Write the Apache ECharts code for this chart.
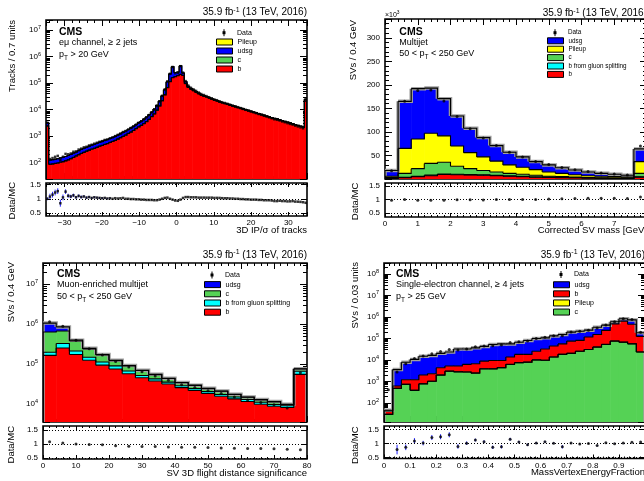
<!DOCTYPE html>
<html><head><meta charset="utf-8">
<script src="https://cdn.jsdelivr.net/npm/echarts@6/dist/echarts.min.js"></script>
<style>html,body{margin:0;padding:0;background:#fff}#c{width:644px;height:481px}</style>
</head><body><div id="c"></div>
<script>
const FONT = '"Liberation Sans", Arial, Helvetica, sans-serif';
const RED = '#ff0000', GREEN = '#55d255', BLUE = '#0000ff', YELLOW = '#ffff00', CYAN = '#00ffff';

// ---------- Panel 1: 3D IP/sigma of tracks (100 bins, -35..35) ----------
const ipBins = [-35, 0.7];
const ipB = [2400,86,88,92,96,103,107,116,126,139,
 156,176,197,221,243,266,292,320,343,376,
 412,442,484,519,569,624,684,770,861,966,
 1085,1246,1408,1615,1898,2203,2530,2928,3518,4264,
 5366,6825,9425,13585,21515,35968,67200,112000,158460,175700,
 189360,210090,192000,95200,68400,58590,51150,44640,39060,34410,
 31620,29760,27070,24670,22460,21020,19200,17860,16700,15550,
 14500,13540,12670,11810,11040,10270,9600,8957,8362,7805,
 7286,6797,6346,5923,5520,5155,4810,4493,4291,4003,
 3734,3485,3254,3034,2832,2640,2467,2304,2150,24000];
const ipC = [30,1,1,1,1,2,2,2,2,2,
 2,3,3,3,3,4,4,5,5,5,
 6,6,7,7,8,9,10,11,12,14,
 16,18,20,23,28,32,37,44,53,65,
 81,105,145,209,331,562,1120,2240,4170,2510,
 2630,4470,2400,1120,760,630,550,480,420,370,
 340,310,282,257,234,219,200,186,174,162,
 151,141,132,123,115,107,100,93,87,81,
 76,71,66,62,58,54,50,47,45,42,
 39,36,34,32,30,28,26,24,22,250];
const ipPU = [10,0.4,0.4,0.4,0.4,0.5,0.5,0.5,0.6,0.6,
 0.7,0.8,0.8,1,1,1,1,1,1,2,
 2,2,2,2,2,3,3,3,4,4,
 5,5,6,7,8,10,11,13,16,19,
 24,32,44,63,99,169,336,672,1250,750,
 790,1340,720,340,230,190,165,144,126,111,
 102,93,85,77,70,66,60,56,52,49,
 45,42,40,37,35,32,30,28,26,24,
 23,21,20,19,17,16,15,14,13,13,
 12,11,10,9,9,8,8,7,7,75];
const ipUdsg = [760,39,40,42,44,46,49,52,57,62,
 70,71,81,91,100,109,120,131,141,154,
 169,181,199,213,234,255,280,316,353,396,
 444,511,606,695,816,995,1142,1385,1663,2112,
 2659,3538,4886,7043,11155,19501,43344,109088,253120,72040,
 70220,231100,44880,15340,6610,3590,3135,2736,2394,2109,
 1938,837,763,696,636,595,540,498,474,439,
 404,377,358,330,310,291,270,252,235,220,
 205,191,178,166,155,145,135,126,121,112,
 105,98,92,85,79,74,69,65,61,675];
const ipData = [3200,136,148,165,179,128,166,213,205,220,
 256,264,310,335,375,395,442,471,515,558,
 607,644,713,748,829,891,997,1110,1250,1420,
 1550,1780,2020,2320,2700,3180,3610,4240,5040,6200,
 7800,9980,13800,20300,33100,57900,116500,224000,404500,236000,
 244600,433600,247200,118700,80600,66200,57800,50400,43700,38500,
 35400,32200,29300,26700,24100,22600,20600,19000,17700,16500,
 15250,14240,13200,12300,11390,10590,9800,9140,8450,7890,
 7360,6800,6350,5860,5460,5100,4710,4310,4110,3880,
 3580,3340,3080,2880,2710,2480,2310,2140,1970,21500];
const ipRatioErr = [0.05,0.1,0.1,0.1,0.1,0.12,0.1,0.08,0.07,0.06,0.06,0.05,0.05,0.05,0.04,0.04,0.04,0.03,0.03,0.03,0.03,0.03,0.02,0.02,0.02];

// ---------- Panel 2: corrected SV mass (20 bins, 0..8 GeV), units of 10^3 ----------
const mBins = [0, 0.4];
const mB    = [0.5,3,5,7,9.5,9,8.5,8,7,6,5,4,3.5,3,2.5,2,1.5,1.3,1.2,4];
const mBg   = [0.2,0.6,1,1.2,1.2,1,0.9,0.8,0.7,0.6,0.5,0.4,0.3,0.3,0.2,0.2,0.2,0.1,0.1,0.6];
const mC    = [2.3,8.4,16,25,25,17,12.6,9.2,7.3,5.4,4.5,3.6,2.2,1.7,1.3,0.8,0.8,0.6,0.7,7.4];
const mPU   = [3,53,63,64,56,43,34,29,23,18,15,12,9,7,5,4,3.5,3,2,25];
const mUdsg = [12,100,107,96,79,64,52,41,33,27,22,17,15,12,10,8,6,5,4,27];
const mData = [17.6,165,188,189,166,133,107,87,71,57,47,37,30.6,24.7,19.8,15.8,12.6,10.5,8.3,70];

// ---------- Panel 3: SV 3D flight distance significance (20 bins, 0..80) ----------
const fBins = [0, 4];
const fB    = [167000,255000,175000,126000,95000,76000,58000,46000,38000,32000,26000,22000,18500,15800,13600,11700,10000,8900,8300,56000];
const fBg   = [33000,75000,40000,24000,19000,15000,10000,6500,5000,3800,3100,2600,2200,1800,1600,1400,1200,1000,900,11000];
const fC    = [440000,350000,165000,90000,56000,32000,23000,17000,12000,8200,5300,4900,3900,3600,2300,1900,1700,1600,700,9000];
const fUdsg = [430000,180000,20000,10000,5000,3000,2000,1500,1000,800,600,500,400,300,300,200,200,200,100,1000];
const fData = [1156000,894000,400000,245000,170000,118000,85600,64600,51000,40000,30800,26400,21800,18500,15100,12800,11000,9700,8100,61000];

// ---------- Panel 4: MassVertexEnergyFraction (30 bins, 0..1) ----------
const eBins = [0, 1/30];
const eC    = [29,470,720,380,760,1000,1950,2950,2750,2700,2400,3800,3800,4300,6100,7300,7700,9800,9500,13500,18000,20000,25000,30000,39000,52000,74000,66000,55000,23000];
const ePU   = [0.3,5,7,4,8,10,20,30,28,27,24,38,38,43,61,73,77,98,95,135,180,200,250,300,390,520,740,660,550,230];
const eB    = [12,130,460,800,1190,1240,2300,2150,2350,3400,4100,4900,5500,5000,7400,10500,10100,15200,22500,30500,37000,54000,55000,85000,111000,183000,396000,564000,395000,100000];
const eUdsg = [4,2900,6500,9300,12800,13800,15700,17900,26900,25900,29500,33300,42700,45700,41500,48200,61200,73000,73000,86000,95000,121000,135000,125000,180000,175000,120000,180000,270000,60000];
const eData = [400,2730,6600,11400,14900,19400,24700,30100,28500,32300,40300,44500,44700,48400,63200,69300,75000,99000,111000,131000,132000,197000,211000,240000,304000,418000,584000,818000,749000,192000];
const eRatioErr = [0.3,0.17,0.1,0.1,0.08,0.09,0.09,0.09,0.08,0.06,0.05,0.05,0.06,0.06,0.05,0.04,0.04,0.03,0.03,0.02,0.06,0.02,0.02,0.02,0.02,0.01,0.01,0.01,0.01,0.01];

// ---------- helpers ----------
const grids = [], xAxes = [], yAxes = [], series = [], legends = [], gfx = [];
const edges = (bins, n) => Array.from({length: n + 1}, (_, i) => bins[0] + bins[1] * i);
const centers = (bins, n) => Array.from({length: n}, (_, i) => bins[0] + bins[1] * (i + 0.5));

const fillItem = color => (params, api) => {
  const a = api.coord([api.value(0), api.value(3)]);
  const b = api.coord([api.value(1), api.value(2)]);
  return {type: 'rect', shape: {x: a[0], y: Math.min(a[1], b[1]), width: b[0] - a[0] + 0.6, height: Math.abs(b[1] - a[1])},
    style: {fill: color}};
};
const outlineItem = (stroke, width) => (params, api) => {
  const x0 = api.value(0), x1 = api.value(1), hi = api.value(2), hn = api.value(3), hl = api.value(4);
  const pts = [api.coord([x0, hl]), api.coord([x0, hi]), api.coord([x1, hi]), api.coord([x1, hn])];
  return {type: 'polyline', shape: {points: pts}, style: {stroke, lineWidth: width, fill: null}};
};

function addHist(p, ax) {
  const n = p.stack[0][1].length, e = edges(p.bins, n);
  const base = p.y.type === 'log' ? p.y.min : 0;
  let prev = new Array(n).fill(0);
  const outline = [];
  p.stack.forEach((s, j) => {
    const name = s[0], vals = s[1], color = s[2];
    const cum = vals.map((v, i) => prev[i] + v);
    const fill = cum.map((c, i) => [e[i], e[i + 1], j === 0 ? base : prev[i], c]);
    series.push({type: 'custom', name, xAxisIndex: ax, yAxisIndex: ax, clip: true, silent: true, z: 2,
      itemStyle: {color}, data: fill, renderItem: fillItem(color)});
    cum.forEach((c, i) => outline.push([e[i], e[i + 1], c, i + 1 < n ? cum[i + 1] : base, i === 0 ? base : c]));
    prev = cum;
  });
  if (p.band) {
    const tot = prev;
    series.push({type: 'custom', xAxisIndex: ax, yAxisIndex: ax, clip: true, silent: true, z: 3,
      data: tot.map((c, i) => [e[i], e[i + 1], c, i + 1 < n ? tot[i + 1] : base, i === 0 ? base : c]),
      renderItem: outlineItem('#a0a0a0', 3.5)});
  }
  series.push({type: 'custom', xAxisIndex: ax, yAxisIndex: ax, clip: true, silent: true, z: 4,
    data: outline, renderItem: outlineItem('#000', 1.1)});
  return prev; // MC total
}

function logLabel(v) {
  const l = Math.log10(v), e = Math.round(l);
  return Math.abs(l - e) < 1e-6 ? '10{s|' + e + '}' : '';
}
const labelRich = {s: {fontSize: 5.5, lineHeight: 6, verticalAlign: 'top', color: '#000', fontFamily: FONT}};
const tick = (len) => ({inside: true, length: len, lineStyle: {color: '#000', width: 1}});
const noLine = {show: false, onZero: false};

function addPanel(k, p) {
  const gm = 2 * k, gr = 2 * k + 1, ax = 4 * k;
  const gbase = {show: true, borderColor: '#000', borderWidth: 1.6, backgroundColor: 'rgba(0,0,0,0)', containLabel: false, outerBoundsMode: 'none'};
  grids.push(Object.assign({left: p.l, top: p.t, width: p.w, height: p.h}, gbase));
  grids.push(Object.assign({left: p.l, top: p.rt, width: p.w, height: p.rh}, gbase));
  const xb = {type: 'value', min: p.x.min, max: p.x.max, axisLine: noLine, splitLine: {show: false}};
  if (p.x.interval) xb.interval = p.x.interval; else xb.splitNumber = p.x.splitNumber;
  const xm = Object.assign({}, xb, {axisTick: tick(6), minorTick: {show: true, splitNumber: 5, length: 3, lineStyle: {color: '#000'}}, axisLabel: {show: false}});
  const xr = Object.assign({}, xb, {axisTick: tick(4), minorTick: {show: true, splitNumber: 5, length: 2, lineStyle: {color: '#000'}}});
  xAxes.push(Object.assign({}, xm, {gridIndex: gm, position: 'bottom'}));
  xAxes.push(Object.assign({}, xm, {gridIndex: gm, position: 'top'}));
  xAxes.push(Object.assign({}, xr, {gridIndex: gr, position: 'bottom', axisLabel: {show: true, margin: 3, fontSize: 8, color: '#000', fontFamily: FONT, formatter: p.x.fmt, showMinLabel: p.x.showMin, showMaxLabel: p.x.showMax}}));
  xAxes.push(Object.assign({}, xr, {gridIndex: gr, position: 'top', axisLabel: {show: false}}));
  const isLog = p.y.type === 'log';
  const yb = {type: p.y.type, min: p.y.min, max: p.y.max, gridIndex: gm, axisLine: noLine, splitLine: {show: false},
    axisTick: tick(7), minorTick: {show: true, splitNumber: isLog ? 9 : 5, length: 4, lineStyle: {color: '#000'}}};
  if (p.y.interval) yb.interval = p.y.interval;
  yAxes.push(Object.assign({}, yb, {position: 'left', axisLabel: {show: true, margin: 5, fontSize: 8, lineHeight: 11, color: '#000', fontFamily: FONT,
    formatter: isLog ? logLabel : (v => String(v)), rich: labelRich, showMinLabel: !!p.y.showMin, showMaxLabel: !!p.y.showMax}}));
  yAxes.push(Object.assign({}, yb, {position: 'right', axisLabel: {show: false}}));
  const rb = {type: 'value', min: p.r.min, max: p.r.max, gridIndex: gr, axisLine: noLine, splitLine: {show: false},
    axisTick: {inside: true, length: 5, lineStyle: {color: '#000'}, customValues: [0.5, 1, 1.5]}};
  yAxes.push(Object.assign({}, rb, {position: 'left', axisLabel: {show: true, margin: 5, fontSize: 8, color: '#000', fontFamily: FONT, customValues: [0.5, 1, 1.5], formatter: v => String(v)}}));
  yAxes.push(Object.assign({}, rb, {position: 'right', axisLabel: {show: false}}));

  // stacked MC histograms
  const mc = addHist(p, ax);
  // data
  const n = p.data.length, xc = centers(p.bins, n);
  series.push({type: 'scatter', name: 'Data', xAxisIndex: ax, yAxisIndex: ax, silent: true, z: 6, clip: true,
    symbol: p.sym, symbolSize: p.symSize, itemStyle: {color: '#000'},
    data: xc.map((x, i) => [x, p.data[i]])});
  // ratio data / MC
  const ratio = p.data.map((d, i) => d / mc[i]);
  if (p.err) {
    const ed = [];
    p.err.forEach((e, i) => ed.push([xc[i], ratio[i], e]));
    series.push({type: 'custom', xAxisIndex: ax + 2, yAxisIndex: ax + 2, data: ed, clip: true, silent: true, z: 4,
      renderItem: (params, api) => {
        const x = api.value(0), y = api.value(1), e = api.value(2);
        const a = api.coord([x, y - e]), b = api.coord([x, y + e]);
        return {type: 'line', shape: {x1: a[0], y1: a[1], x2: b[0], y2: b[1]}, style: {stroke: '#2020ff', lineWidth: 1}};
      }});
  }
  series.push({type: 'scatter', name: 'Data', xAxisIndex: ax + 2, yAxisIndex: ax + 2, silent: true, z: 5, clip: true,
    symbol: p.sym, symbolSize: p.symSize, itemStyle: {color: '#000'},
    data: xc.map((x, i) => [x, ratio[i]]),
    markLine: {silent: true, symbol: 'none', animation: false, label: {show: false},
      lineStyle: {color: '#000', type: [1, 2], width: 1}, emphasis: {disabled: true},
      data: [{yAxis: 0.5}, {yAxis: 1}, {yAxis: 1.5}]}});
  // legend
  legends.push({orient: 'vertical', left: p.lg.left, top: p.lg.top, padding: 0, itemGap: 0, itemWidth: 16, itemHeight: 6,
    icon: 'rect', selectedMode: false,
    textStyle: {fontSize: p.lg.fs, lineHeight: p.lg.sp, color: '#000', fontFamily: FONT},
    itemStyle: {borderColor: '#000', borderWidth: 1},
    data: p.lg.items.map(it => ({name: it[0], icon: 'rect', itemStyle: {color: it[1], borderColor: '#000', borderWidth: 1}}))});
  const dcx = p.lg.left + 8, dcy = p.lg.dataY;
  gfx.push({type: 'line', silent: true, shape: {x1: dcx, y1: dcy - 3.5, x2: dcx, y2: dcy + 3.5}, style: {stroke: '#000', lineWidth: 1}});
  gfx.push({type: 'rect', silent: true, shape: {x: dcx - 1.5, y: dcy - 1.5, width: 3, height: 3}, style: {fill: '#000'}});
  gfx.push(txt(p.lg.left + 21, dcy, 'Data', p.lg.fs));
}

const textRich = s => ({
  s: {fontSize: s * 0.7, lineHeight: s * 0.7, verticalAlign: 'top', fontFamily: FONT, fill: '#000'},
  t: {fontSize: s * 0.72, lineHeight: s * 0.72, verticalAlign: 'bottom', fontFamily: FONT, fill: '#000'}
});
function txt(x, y, text, size, o) {
  o = o || {};
  return {type: 'text', x, y, rotation: o.rot || 0, silent: true, z: 10,
    style: {text, fontSize: size, fontFamily: FONT, fontWeight: o.bold ? 'bold' : 'normal', fill: '#000',
      align: o.align || 'left', verticalAlign: 'middle', lineHeight: o.lh || Math.round(size * 1.25), rich: textRich(size)}};
}
const minusFmt = v => (v < 0 ? '\u2212' + (-v) : String(v));
const decFmt = v => (v === 0 ? '0' : String(+v.toFixed(1)));

addPanel(0, {
  l: 46, t: 20, w: 261, h: 159, rt: 183, rh: 33, bins: ipBins,
  x: {min: -35, max: 35, splitNumber: 7, fmt: minusFmt, showMin: false, showMax: false},
  y: {type: 'log', min: 24, max: 2.4e7}, r: {min: 0.4, max: 1.55},
  stack: [['b', ipB, RED], ['c', ipC, GREEN], ['udsg', ipUdsg, BLUE], ['Pileup', ipPU, YELLOW]],
  data: ipData, err: ipRatioErr, sym: 'rect', symSize: 2.5, band: false,
  lg: {left: 216, top: 37.5, sp: 9, fs: 7, dataY: 32.7, items: [['Pileup', YELLOW], ['udsg', BLUE], ['c', GREEN], ['b', RED]]}
});
addPanel(1, {
  l: 385, t: 19, w: 262, h: 160, rt: 183, rh: 34, bins: mBins,
  x: {min: 0, max: 8, interval: 1, fmt: v => String(v), showMin: true, showMax: false},
  y: {type: 'value', min: 0, max: 340, interval: 50}, r: {min: 0.36, max: 1.61},
  stack: [['b', mB, RED], ['b from gluon splitting', mBg, CYAN], ['c', mC, GREEN], ['Pileup', mPU, YELLOW], ['udsg', mUdsg, BLUE]],
  data: mData, err: null, sym: 'circle', symSize: 3, band: true,
  lg: {left: 547, top: 36.6, sp: 8.4, fs: 6.3, dataY: 32.7, items: [['udsg', BLUE], ['Pileup', YELLOW], ['c', GREEN], ['b from gluon splitting', CYAN], ['b', RED]]}
});
addPanel(2, {
  l: 43, t: 263, w: 264, h: 159, rt: 426, rh: 33, bins: fBins,
  x: {min: 0, max: 80, interval: 10, fmt: v => String(v), showMin: true, showMax: true},
  y: {type: 'log', min: 3600, max: 3.4e7}, r: {min: 0.46, max: 1.65},
  stack: [['b', fB, RED], ['b from gluon splitting', fBg, CYAN], ['c', fC, GREEN], ['udsg', fUdsg, BLUE]],
  data: fData, err: null, sym: 'circle', symSize: 3, band: true,
  lg: {left: 204, top: 280, sp: 9.2, fs: 7, dataY: 275, items: [['udsg', BLUE], ['c', GREEN], ['b from gluon splitting', CYAN], ['b', RED]]}
});
addPanel(3, {
  l: 384, t: 263, w: 261, h: 159, rt: 426, rh: 32.5, bins: eBins,
  x: {min: 0, max: 1, interval: 0.1, fmt: decFmt, showMin: true, showMax: false},
  y: {type: 'log', min: 12.8, max: 3.2e8}, r: {min: 0.46, max: 1.62},
  stack: [['c', eC, GREEN], ['Pileup', ePU, YELLOW], ['b', eB, RED], ['udsg', eUdsg, BLUE]],
  data: eData, err: eRatioErr, sym: 'circle', symSize: 3, band: true,
  lg: {left: 553, top: 280.2, sp: 9.1, fs: 7, dataY: 274.5, items: [['udsg', BLUE], ['b', RED], ['Pileup', YELLOW], ['c', GREEN]]}
});

const LUMI = '35.9 fb{s|-1} (13 TeV, 2016)';
const R = {align: 'right'}, V = {rot: Math.PI / 2, align: 'right'};
gfx.push(
  txt(307, 12.7, LUMI, 10, {align: 'right', lh: 12}),
  txt(59, 31.7, 'CMS', 10.5, {bold: true}),
  txt(59, 42.7, 'e\u03bc channel, \u2265 2 jets', 9),
  txt(59, 54.3, 'p{t|T} > 20 GeV', 9, {lh: 13}),
  txt(12.7, 20, 'Tracks / 0.7 units', 9.5, V),
  txt(12.7, 182, 'Data/MC', 9.5, V),
  txt(307, 230.7, '3D IP/\u03c3 of tracks', 9.5, R),
  txt(647, 13.3, LUMI, 10, {align: 'right', lh: 12}),
  txt(385, 15, '\u00d710{s|3}', 7, {lh: 9}),
  txt(399.3, 31.7, 'CMS', 10.5, {bold: true}),
  txt(399.3, 42.7, 'Multijet', 9),
  txt(399.3, 54, '50 < p{t|T} < 250 GeV', 9, {lh: 13}),
  txt(353.7, 20, 'SVs / 0.4 GeV', 9.5, V),
  txt(355, 182.7, 'Data/MC', 9.5, V),
  txt(647, 230, 'Corrected SV mass [GeV]', 9.5, R),
  txt(307, 255, LUMI, 10, {align: 'right', lh: 12}),
  txt(57, 274.3, 'CMS', 10.5, {bold: true}),
  txt(57, 285, 'Muon-enriched multijet', 9),
  txt(57, 296.5, '50 < p{t|T} < 250 GeV', 9, {lh: 13}),
  txt(11, 262, 'SVs / 0.4 GeV', 9.5, V),
  txt(11, 426, 'Data/MC', 9.5, V),
  txt(307, 473.3, 'SV 3D flight distance significance', 9.5, R),
  txt(645, 255, LUMI, 10, {align: 'right', lh: 12}),
  txt(396, 274.3, 'CMS', 10.5, {bold: true}),
  txt(396, 285, 'Single-electron channel, \u2265 4 jets', 9),
  txt(396, 296.5, 'p{t|T} > 25 GeV', 9, {lh: 13}),
  txt(355.3, 262, 'SVs / 0.03 units', 9.5, V),
  txt(355, 426.5, 'Data/MC', 9.5, V),
  txt(645, 472.3, 'MassVertexEnergyFraction', 9.5, R)
);

const chart = echarts.init(document.getElementById('c'), null, {renderer: 'canvas'});
chart.setOption({
  animation: false,
  backgroundColor: '#fff',
  textStyle: {fontFamily: FONT},
  grid: grids, xAxis: xAxes, yAxis: yAxes, series: series, legend: legends,
  graphic: {elements: gfx}
});
</script>
</body></html>
